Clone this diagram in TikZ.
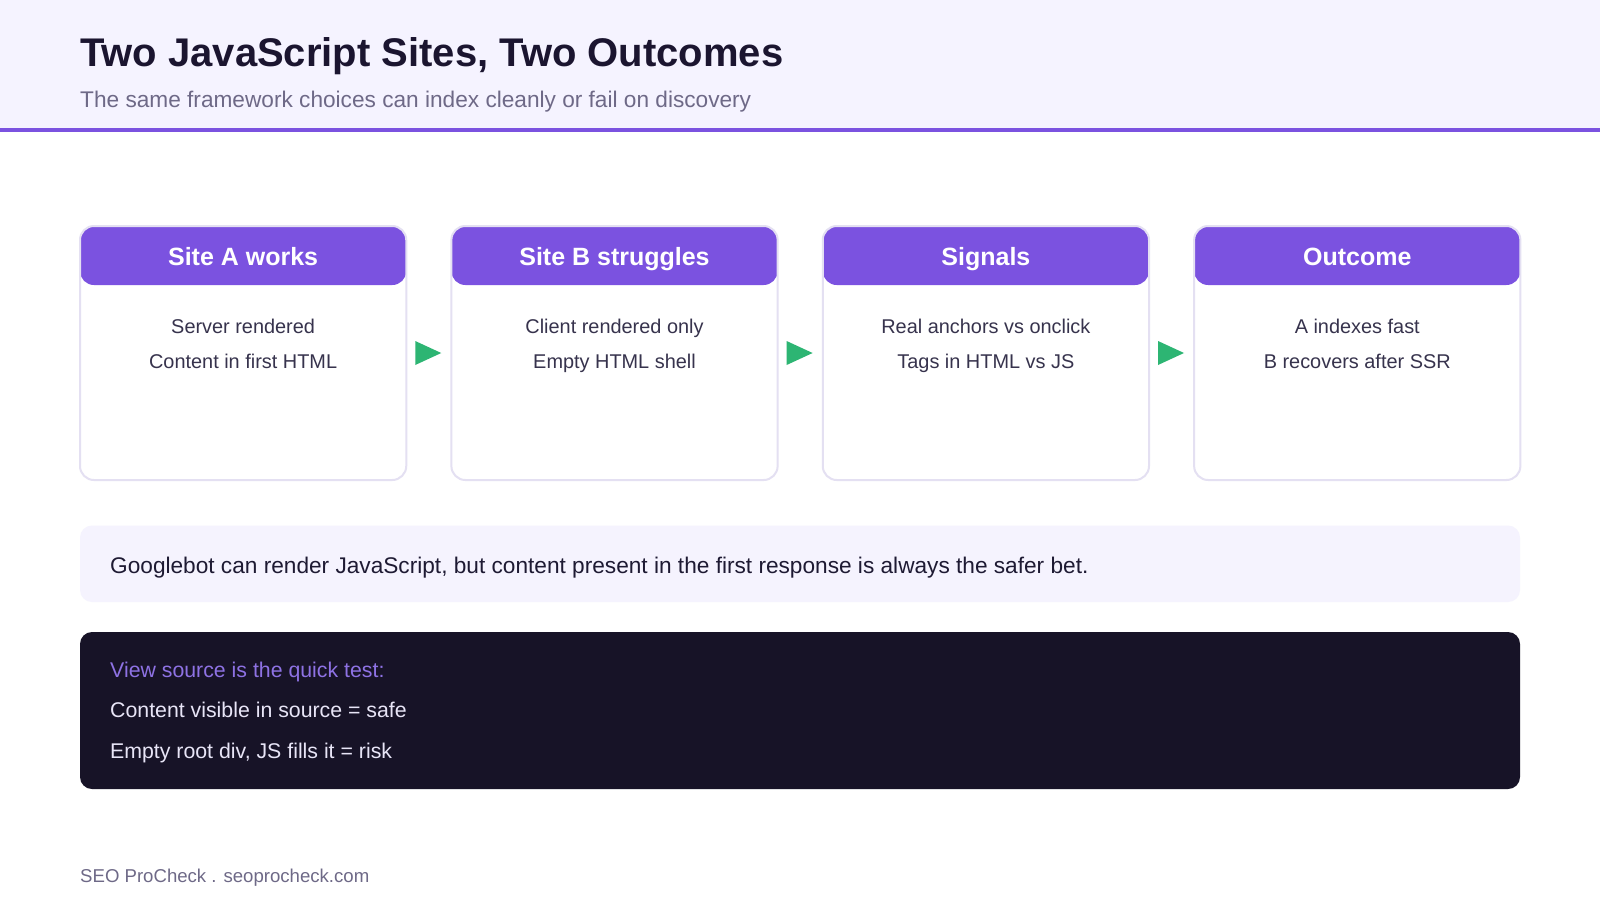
\documentclass[tikz,border=0pt]{standalone}
\usepackage{fontspec}
\setmainfont{Liberation Sans}
\usetikzlibrary{calc}
\definecolor{hdrbg}{HTML}{F5F3FF}
\definecolor{purp}{HTML}{7B52E0}
\definecolor{cardline}{HTML}{E4E0F2}
\definecolor{arrowc}{HTML}{2DB573}
\definecolor{titlec}{HTML}{1B1530}
\definecolor{subc}{HTML}{6E6987}
\definecolor{bodyc}{HTML}{37334D}
\definecolor{notebg}{HTML}{F5F3FE}
\definecolor{notec}{HTML}{1E1A33}
\definecolor{darkbg}{HTML}{171327}
\definecolor{darkpurp}{HTML}{8E72E4}
\definecolor{darktxt}{HTML}{E8E5F7}
\tikzset{
  card/.style={draw=cardline, line width=2pt, fill=white, rounded corners=14pt,
    minimum width=326.25pt, minimum height=254pt, inner sep=0pt,
    path picture={\fill[purp] (path picture bounding box.north west) rectangle ([yshift=-59pt]path picture bounding box.north east);}},
  cardhead/.style={anchor=base, text=white, font=\fontsize{25}{29}\selectfont\bfseries, inner sep=0pt},
  cardbody/.style={anchor=base, text=bodyc, font=\fontsize{19.9}{23}\selectfont, inner sep=0pt},
  tri/.style={fill=arrowc},
  darkline/.style={anchor=base west, font=\fontsize{21.3}{25}\selectfont, inner sep=0pt},
}
\begin{document}
\begin{tikzpicture}[x=1pt,y=-1pt]
\useasboundingbox (0,0) rectangle (1600,900);
\fill[white] (0,0) rectangle (1600,900);
% header
\fill[hdrbg] (0,0) rectangle (1600,128);
\fill[purp] (0,128) rectangle (1600,132);
\node[anchor=base west, inner sep=0pt, text=titlec, font=\fontsize{40}{46}\selectfont\bfseries] (title) at (80,66.5) {Two JavaScript Sites, Two Outcomes};
\node[anchor=base west, inner sep=0pt, text=subc, font=\fontsize{22.65}{26}\selectfont] (subtitle) at (80,107) {The same framework choices can index cleanly or fail on discovery};
% cards
\node[card] (c1) at (243.125,353) {};
\node[card] (c2) at (614.5,353) {};
\node[card] (c3) at (985.875,353) {};
\node[card] (c4) at (1357.25,353) {};
\node[cardhead] (h1) at (243.125,265) {Site A works};
\node[cardhead] (h2) at (614.5,265) {Site B struggles};
\node[cardhead] (h3) at (985.875,265) {Signals};
\node[cardhead] (h4) at (1357.25,265) {Outcome};
\node[cardbody] (b1a) at (243.125,333) {Server rendered};
\node[cardbody] (b1b) at (243.125,368) {Content in first HTML};
\node[cardbody] (b2a) at (614.5,333) {Client rendered only};
\node[cardbody] (b2b) at (614.5,368) {Empty HTML shell};
\node[cardbody] (b3a) at (985.875,333) {Real anchors vs onclick};
\node[cardbody] (b3b) at (985.875,368) {Tags in HTML vs JS};
\node[cardbody] (b4a) at (1357.25,333) {A indexes fast};
\node[cardbody] (b4b) at (1357.25,368) {B recovers after SSR};
% arrows
\fill[tri] ($(c1.east)+(8,-12)$) -- ($(c1.east)+(34,0)$) -- ($(c1.east)+(8,12)$) -- cycle;
\fill[tri] ($(c2.east)+(8,-12)$) -- ($(c2.east)+(34,0)$) -- ($(c2.east)+(8,12)$) -- cycle;
\fill[tri] ($(c3.east)+(8,-12)$) -- ($(c3.east)+(34,0)$) -- ($(c3.east)+(8,12)$) -- cycle;
% note
\fill[notebg, rounded corners=12pt] (80,525.5) rectangle (1520,602);
\node[anchor=base west, inner sep=0pt, text=notec, font=\fontsize{22.65}{26}\selectfont] (note) at (110,573) {Googlebot can render JavaScript, but content present in the first response is always the safer bet.};
% dark box
\fill[darkbg, rounded corners=12pt] (80,632) rectangle (1520,789);
\node[darkline, text=darkpurp] (d1) at (110,677.5) {View source is the quick test:};
\node[darkline, text=darktxt] (d2) at (110,717.5) {Content visible in source = safe};
\node[darkline, text=darktxt] (d3) at (110,758) {Empty root div, JS fills it = risk};
% footer
\node[anchor=base west, inner sep=0pt, text=subc, font=\fontsize{18.6}{22}\selectfont] (footer) at (80,882) {SEO ProCheck . seoprocheck.com};
\end{tikzpicture}
\end{document}
